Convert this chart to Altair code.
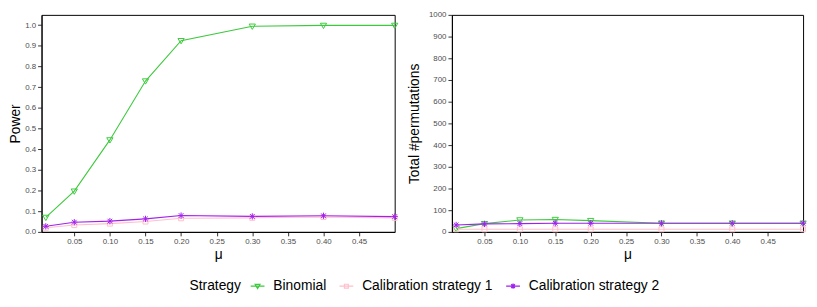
import altair as alt
import pandas as pd

# ---- data ----
mu = [0.01, 0.05, 0.10, 0.15, 0.20, 0.30, 0.40, 0.50]
strategies = ["Binomial", "Calibration strategy 1", "Calibration strategy 2"]
power_binomial = [0.070, 0.197, 0.445, 0.730, 0.925, 0.995, 0.999, 0.999]
power_cal1 = [0.020, 0.033, 0.040, 0.050, 0.066, 0.068, 0.072, 0.068]
power_cal2 = [0.027, 0.047, 0.052, 0.063, 0.079, 0.075, 0.078, 0.074]
perm_binomial = [15, 38, 55, 57, 52, 40, 40, 40]
perm_cal1 = [12, 12, 12, 12, 12, 12, 12, 12]
perm_cal2 = [32, 37, 38, 40, 40, 40, 40, 40]
x_ticks = [0.05, 0.10, 0.15, 0.20, 0.25, 0.30, 0.35, 0.40, 0.45]
power_ticks = [0.0, 0.1, 0.2, 0.3, 0.4, 0.5, 0.6, 0.7, 0.8, 0.9, 1.0]
perm_ticks = [0, 100, 200, 300, 400, 500, 600, 700, 800, 900, 1000]

colors = ["#3DC93D", "#FFC0CB", "#A020F0"]
FONT = "Liberation Sans"

rows = []
for s, pw, pm in zip(strategies, [power_binomial, power_cal1, power_cal2],
                     [perm_binomial, perm_cal1, perm_cal2]):
    for m, a, b in zip(mu, pw, pm):
        rows.append({"mu": m, "Strategy": s, "power": a, "perms": b})
df = pd.DataFrame(rows)

TRI = "M-1,-0.7L1,-0.7L0,1Z"
SQ = "M-0.8,-0.8L0.8,-0.8L0.8,0.8L-0.8,0.8Z"
AST = "M-1,0L1,0M0,-1L0,1M-0.75,-0.75L0.75,0.75M-0.75,0.75L0.75,-0.75"
marker_paths = [TRI, SQ, AST]
legend_paths = [
    "M-1,0L1,0M-0.35,-0.25L0.35,-0.25L0,0.35Z",
    "M-1,0L1,0M-0.28,-0.28L0.28,-0.28L0.28,0.28L-0.28,0.28Z",
    "M-1,0L1,0M0,-0.38L0,0.38M-0.27,-0.27L0.27,0.27M-0.27,0.27L0.27,-0.27",
]

color_scale = alt.Scale(domain=strategies, range=colors)
shape_scale = alt.Scale(domain=strategies, range=legend_paths)

leg = alt.Legend(title="Strategy", orient="none", legendX=150, legendY=267,
                 direction="horizontal", titleOrient="left",
                 symbolSize=196, symbolStrokeWidth=1.2,
                 labelFontSize=14, titleFontSize=14, titleFontWeight="normal",
                 labelFont=FONT, titleFont=FONT, labelColor="black",
                 titleColor="black", labelOffset=8, columnPadding=10,
                 titlePadding=8)


def panel(field, ytitle, ydomain, yvalues, yformat, title_pad, width, with_legend):
    x = alt.X("mu:Q",
              scale=alt.Scale(domain=[0.004, 0.5], nice=False, zero=False),
              axis=alt.Axis(values=x_ticks, format=".2f", title="μ", titlePadding=2))
    y = alt.Y(f"{field}:Q",
              scale=alt.Scale(domain=ydomain, nice=False, zero=False),
              axis=alt.Axis(values=yvalues, format=yformat, title=ytitle,
                            titlePadding=title_pad, labelOverlap=False))
    color = alt.Color("Strategy:N", scale=color_scale, legend=leg)
    base = alt.Chart(df).encode(x=x, y=y, color=color)
    layers = [base.mark_line(strokeWidth=1.1)]
    for s, p in zip(strategies, marker_paths):
        layers.append(
            base.transform_filter(alt.datum.Strategy == s)
            .mark_point(shape=p, filled=False, size=40, strokeWidth=1, opacity=1)
        )
    if with_legend:
        leg_df = pd.DataFrame({"mu": [-1.0] * 3, field: [0.5] * 3, "Strategy": strategies})
        layers.append(
            alt.Chart(leg_df).mark_point(filled=False, clip=True, opacity=1).encode(
                x=x, y=y,
                color=color,
                shape=alt.Shape("Strategy:N", scale=shape_scale, legend=leg),
            )
        )
    return alt.layer(*layers).properties(width=width, height=220)


left = panel("power", "Power", [0, 1.05], power_ticks, ".1f", 2, 358, True)
right = panel("perms", "Total #permutations", [0, 1000], perm_ticks, "d", 7, 356, False)

chart = (
    alt.hconcat(left, right, spacing=6)
    .properties(padding={"left": 0, "top": 0, "right": 0, "bottom": 0})
    .configure_view(stroke="black", strokeWidth=1)
    .configure_axis(domainColor="black", domainWidth=1, tickColor="#333333",
                    tickSize=4, tickWidth=1, labelColor="#4D4D4D", labelFontSize=8,
                    titleFontSize=14, titleFontWeight="normal", titleColor="black",
                    labelFont=FONT, titleFont=FONT, grid=False, labelPadding=2)
)

chart.save("out.html", embed_options={"renderer": "svg", "actions": False})
